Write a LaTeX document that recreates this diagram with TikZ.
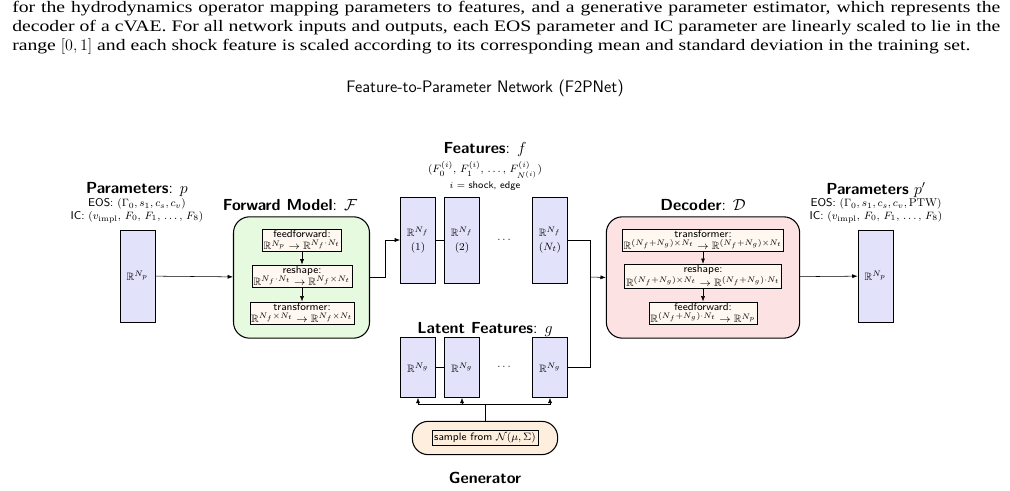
\documentclass[tikz,border=0pt]{standalone}
\usepackage{amsmath,amssymb}
\usepackage{fontspec}
\newfontfamily\bodyserif[FakeStretch=1.23]{Liberation Serif}
\usetikzlibrary{arrows.meta,positioning}
\definecolor{vecfill}{RGB}{226,226,250}
\definecolor{fwdfill}{RGB}{230,250,224}
\definecolor{decfill}{RGB}{252,226,226}
\definecolor{innerfill}{RGB}{255,248,240}
\definecolor{genfill}{RGB}{253,238,222}
\begin{document}
\begin{tikzpicture}[x=0.75pt,y=-0.75pt,
  vec/.style={draw,fill=vecfill,minimum width=26.5pt,inner sep=0pt,font=\fontsize{8}{10}\selectfont},
  big/.style={draw,rounded corners=12pt,thick},
  inner/.style={draw,fill=innerfill,inner sep=1pt,align=center,font=\sffamily\fontsize{8}{9.2}\selectfont},
  head/.style={font=\sffamily\bfseries\fontsize{12}{13}\selectfont},
  sm/.style={font=\sffamily\fontsize{8.5}{9}\selectfont,inner sep=0pt},
  arr/.style={-{Latex[length=4pt,width=3pt]}},
  para/.style={anchor=west,inner sep=0pt,font=\bodyserif\fontsize{12}{14}\selectfont}]
\useasboundingbox (0,0) rectangle (1010,491);
% paragraph
\node[para] (l1) at (12,9) {\hbox to 741pt{for the hydrodynamics operator mapping parameters to features, and a generative parameter estimator, which represents the}};
\node[para] (l2) at (12,28) {\hbox to 741pt{decoder of a cVAE. For all network inputs and outputs, each EOS parameter and IC parameter are linearly scaled to lie in the}};
\node[para] (l3) at (12,47) {range $[0,1]$ and each shock feature is scaled according to its corresponding mean and standard deviation in the training set.};
% title
\node[font=\sffamily\fontsize{12.5}{14}\selectfont] (title) at (485,88) {Feature-to-Parameter Network (F2PNet)};
% input parameters
\node[vec,minimum height=69pt] (p) at (137.5,276) {$\mathbb{R}^{N_p}$};
\node[head] (plab) at (137,190) {Parameters\textmd{: $p$}};
\node[sm] (peos) at (137,204) {EOS: $(\Gamma_0, s_1, c_s, c_v)$};
\node[sm] (pic) at (137,217) {IC: $(v_{\mathrm{impl}},\, F_0,\, F_1,\, \ldots,\, F_8)$};
% forward model
\node[big,fill=fwdfill,minimum width=102pt,minimum height=91pt] (fwd) at (301.5,277.5) {};
\node[head] (fwdlab) at (290,205) {Forward Model\textmd{: $\mathcal{F}$}};
\node[inner] (ff1) at (302,240) {feedforward:\\$\mathbb{R}^{N_p}\to\mathbb{R}^{N_f\cdot N_t}$};
\node[inner] (rs1) at (302,276) {reshape:\\$\mathbb{R}^{N_f\cdot N_t}\to\mathbb{R}^{N_f\times N_t}$};
\node[inner] (tr1) at (302,313) {transformer:\\$\mathbb{R}^{N_f\times N_t}\to\mathbb{R}^{N_f\times N_t}$};
\draw[arr] (ff1) -- (rs1);
\draw[arr] (rs1) -- (tr1);
\draw[arr] (p) -- (fwd);
% features
\node[head] (flab) at (485,150) {Features\textmd{: $f$}};
\node[sm] (ftup) at (485,170) {$(F_0^{(i)},\, F_1^{(i)},\, \ldots,\, F_{N^{(i)}}^{(i)})$};
\node[sm,font=\sffamily\fontsize{7.5}{8}\selectfont] (fi) at (485,186) {$i$ = shock, edge};
\node[vec,minimum height=64.5pt,align=center] (f1) at (418,240) {$\mathbb{R}^{N_f}$\\(1)};
\node[vec,minimum height=64.5pt,align=center] (f2) at (462,240) {$\mathbb{R}^{N_f}$\\(2)};
\node[sm] (fd) at (505,240) {$\cdots$};
\node[vec,minimum height=64.5pt,align=center] (fn) at (550,240) {$\mathbb{R}^{N_f}$\\$(N_t)$};
\draw (f1) -- (f2);
\coordinate (fk) at (385,277);
\draw[arr] (fwd.east |- fk) -- (fk) |- (f1.west);
% latent
\node[head] (glab) at (485,330) {Latent Features\textmd{: $g$}};
\node[vec,minimum height=45pt] (g1) at (418,367.5) {$\mathbb{R}^{N_g}$};
\node[vec,minimum height=45pt] (g2) at (462,367.5) {$\mathbb{R}^{N_g}$};
\node[sm] (gd) at (505,367) {$\cdots$};
\node[vec,minimum height=45pt] (gn) at (550,367.5) {$\mathbb{R}^{N_g}$};
\draw (g1) -- (g2);
% generator
\node[draw,thick,fill=genfill,rounded corners=12pt,minimum width=109pt,minimum height=25pt] (gen) at (485,438) {};
\node[draw,inner sep=1.5pt,font=\sffamily\fontsize{8}{9}\selectfont] (samp) at (485,438) {sample from $\mathcal{N}(\mu,\Sigma)$};
\node[head] (genlab) at (485,478) {Generator};
\coordinate (gj) at (485,404);
\draw (gen.north) -- (gj);
\draw[arr] (gj) -| (g1.south);
\draw[arr] (gj) -| (g2.south);
\draw[arr] (gj) -| (gn.south);
% decoder
\node[big,fill=decfill,minimum width=145pt,minimum height=91pt] (dec) at (703,277.5) {};
\node[head] (declab) at (703,205) {Decoder\textmd{: $\mathcal{D}$}};
\node[inner] (tr2) at (703,240) {transformer:\\$\mathbb{R}^{(N_f+N_g)\times N_t}\to\mathbb{R}^{(N_f+N_g)\times N_t}$};
\node[inner] (rs2) at (703,276) {reshape:\\$\mathbb{R}^{(N_f+N_g)\times N_t}\to\mathbb{R}^{(N_f+N_g)\cdot N_t}$};
\node[inner] (ff2) at (703,313) {feedforward:\\$\mathbb{R}^{(N_f+N_g)\cdot N_t}\to\mathbb{R}^{N_p}$};
\draw[arr] (tr2) -- (rs2);
\draw[arr] (rs2) -- (ff2);
\coordinate (mj) at (590,277);
\draw (fn.east) -| (mj);
\draw (gn.east) -| (mj);
\draw[arr] (mj) -- (dec.west);
% output parameters
\node[vec,minimum height=69pt] (po) at (875.5,276) {$\mathbb{R}^{N_p}$};
\node[head] (polab) at (876,190) {Parameters\textmd{ $p'$}};
\node[sm] (poeos) at (876,204) {EOS: $(\Gamma_0, s_1, c_s, c_v, \mathrm{PTW})$};
\node[sm] (poic) at (876,217) {IC: $(v_{\mathrm{impl}},\, F_0,\, F_1,\, \ldots,\, F_8)$};
\draw[arr] (dec) -- (po);
\end{tikzpicture}
\end{document}
